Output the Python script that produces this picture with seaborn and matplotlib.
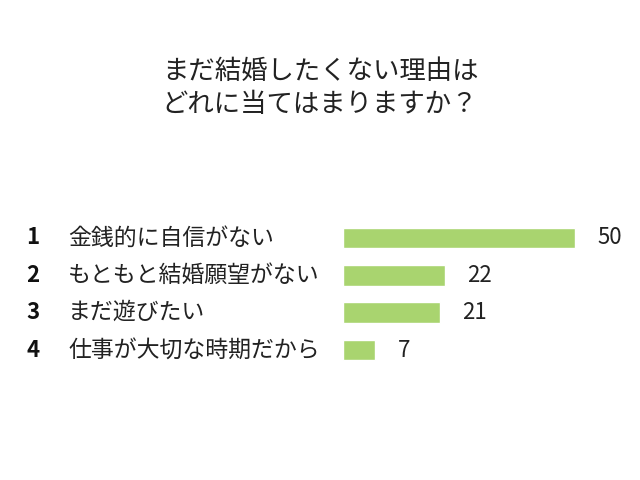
import matplotlib
matplotlib.use("Agg")
import matplotlib.pyplot as plt
import matplotlib.transforms as mtransforms
import pandas as pd
import seaborn as sns

# data
ranks = ["1", "2", "3", "4"]
reasons = ["金銭的に自信がない", "もともと結婚願望がない", "まだ遊びたい", "仕事が大切な時期だから"]
counts = [50, 22, 21, 7]
title = "まだ結婚したくない理由は\nどれに当てはまりますか？"

sns.set_theme(style="white")
plt.rcParams["font.family"] = ["Noto Sans CJK JP", "DejaVu Sans"]

df = pd.DataFrame({"reason": reasons, "count": counts})

fig = plt.figure(figsize=(6.4, 4.8), dpi=100)
ax = fig.add_axes([343 / 640, 1 - 368.7 / 480, 277 / 640, 149.4 / 480])

sns.barplot(data=df, x="count", y="reason", color="#a9d46f", width=0.56,
            saturation=1, ax=ax)
ax.set_xlim(0, 277 / 4.64)
ax.set_ylim(3.5, -0.5)
ax.set_xlabel("")
ax.set_ylabel("")
ax.set_xticks([])
ax.set_yticks([])
sns.despine(ax=ax, left=True, bottom=True)

trans = mtransforms.blended_transform_factory(fig.transFigure, ax.transData)
offset = mtransforms.offset_copy(ax.transData, fig=fig, x=22, y=0, units="dots")
for i, (rk, rs, c) in enumerate(zip(ranks, reasons, counts)):
    ax.text(33 / 640, i, rk, transform=trans, ha="center", va="center",
            fontsize=16, fontweight="bold", color="#111111")
    ax.text(68 / 640, i, rs, transform=trans, ha="left", va="center",
            fontsize=16.5, color="#222222")
    ax.text(c, i, str(c), transform=offset, ha="left", va="center",
            fontsize=16, color="#222222")

fig.text(0.5, 1 - 88 / 480, title, ha="center", va="center", fontsize=19,
         color="#222222", linespacing=1.3)

fig.savefig("out.png", dpi=100)
